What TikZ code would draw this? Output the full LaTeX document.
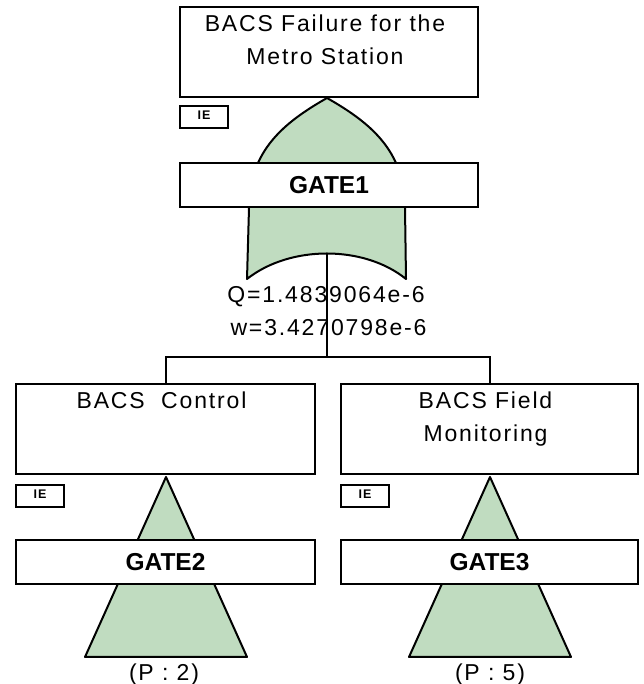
\documentclass[tikz,border=0pt]{standalone}
\usepackage{fontspec}
\setmainfont{Liberation Sans}[LetterSpace=8]
\usepackage{xcolor}
\usetikzlibrary{positioning}

\definecolor{gatefill}{RGB}{192,220,192}

\begin{document}
\begin{tikzpicture}[
    x=1pt, y=1pt, line width=2pt,
    evbox/.style={draw, fill=white, inner sep=0pt, minimum width=298pt, minimum height=90pt},
    evtext/.style={anchor=north, align=center, inner sep=0pt, font=\fontsize{23}{33}\selectfont},
    evtitle/.style={evtext, xshift=-4pt},
    gatebox/.style={draw, fill=white, inner sep=0pt, minimum width=298pt, minimum height=44pt, font=\fontsize{24.5}{26}\selectfont\bfseries\addfontfeature{LetterSpace=0}},
    iebox/.style={draw, fill=white, inner sep=0pt, minimum width=48pt, minimum height=22pt, text depth=4pt, font=\fontsize{12.5}{14}\selectfont\bfseries},
    gateshape/.style={draw, fill=gatefill, line join=round}
]
\useasboundingbox (0,0) rectangle (643,684);

% gate symbols go underneath the boxes
\path[gateshape] (327,586) .. controls (285,562) and (249,534) .. (249,476) -- (247,405)
    .. controls (290,439) and (364,439) .. (406,405) -- (405,476)
    .. controls (405,534) and (369,562) .. (327,586) -- cycle;
\path[gateshape] (166,207) -- (247,27) -- (85,27) -- cycle;
\path[gateshape] (490,207) -- (571,27) -- (409,27) -- cycle;

% top event
\node[evbox] (top) at (329,631.5) {};
\node[evtitle, below=7pt of top.north] (toptext) {BACS Failure for the\\Metro Station};
\node[iebox, below right=7pt and 0pt of top.south west] (ietop) {IE};
\node[gatebox] (gate1) at (329,498.5) {GATE1};
\node[evtext] (gate1val) at (326,399) {Q=1.4839064e-6\\\hspace*{5pt}w=3.4270798e-6};

% sub-events
\node[evbox, minimum width=299pt] (ctl) at (165.5,254.5) {};
\node[evtitle, below=7pt of ctl.north] (ctltext) {BACS\ \ Control};
\node[iebox, below right=9pt and 0pt of ctl.south west] (iectl) {IE};
\node[gatebox, minimum width=299pt] (gate2) at (165.5,122) {GATE2};
\node[evtext, anchor=base] (ctlpage) at (164,4) {(P : 2)};

\node[evbox, minimum width=297pt] (fld) at (489.5,254.5) {};
\node[evtitle, below=7pt of fld.north] (fldtext) {BACS Field\\Monitoring};
\node[iebox, below right=9pt and 0pt of fld.south west] (iefld) {IE};
\node[gatebox, minimum width=297pt] (gate3) at (489.5,122) {GATE3};
\node[evtext, anchor=base] (fldpage) at (490,4) {(P : 5)};

% connectors
\coordinate (g1out) at (327,431);
\coordinate (bus) at (327,327);
\draw (g1out) -- (bus);
\draw (bus) -| (ctl.north);
\draw (bus) -| (fld.north);
\end{tikzpicture}
\end{document}
